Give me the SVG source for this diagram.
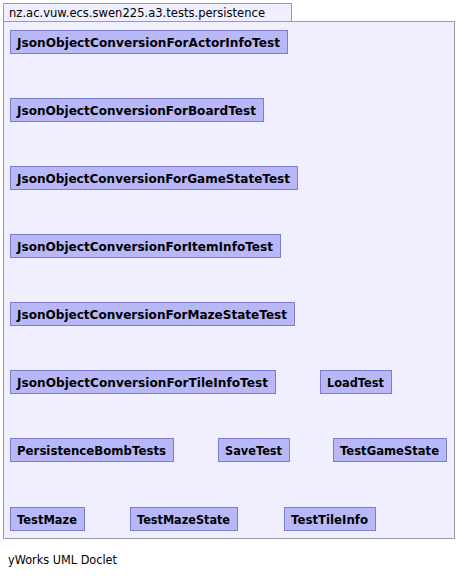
<svg xmlns="http://www.w3.org/2000/svg" width="457" height="576" viewBox="0 0 457 576">
<style>
.pkg{fill:#efefff;stroke:#9a9aa6;stroke-width:1}
.node rect{fill:#b8b8f8;stroke:#7c7cd0;stroke-width:1}
.node text{font-family:"DejaVu Sans","Liberation Sans",sans-serif;font-weight:bold;font-size:13px;fill:#000}
.lbl{font-family:"DejaVu Sans","Liberation Sans",sans-serif;font-size:12.5px;fill:#000}
</style>
<rect width="457" height="576" fill="#ffffff"/>
<g id="package">
<rect class="pkg" x="3.5" y="3.5" width="288" height="18"/>
<rect class="pkg" x="3.5" y="21.5" width="451" height="517"/>
<text class="lbl" x="9" y="17" textLength="256" lengthAdjust="spacingAndGlyphs">nz.ac.vuw.ecs.swen225.a3.tests.persistence</text>
</g>
<g id="connectors"></g>
<g id="n1" class="node"><rect x="10.5" y="30.5" width="277" height="23"/><text x="17" y="47" textLength="263" lengthAdjust="spacingAndGlyphs">JsonObjectConversionForActorInfoTest</text></g>
<g id="n2" class="node"><rect x="10.5" y="98.5" width="253" height="23"/><text x="17" y="115" textLength="239" lengthAdjust="spacingAndGlyphs">JsonObjectConversionForBoardTest</text></g>
<g id="n3" class="node"><rect x="10.5" y="166.5" width="287" height="23"/><text x="17" y="183" textLength="273" lengthAdjust="spacingAndGlyphs">JsonObjectConversionForGameStateTest</text></g>
<g id="n4" class="node"><rect x="10.5" y="234.5" width="270" height="23"/><text x="17" y="251" textLength="256" lengthAdjust="spacingAndGlyphs">JsonObjectConversionForItemInfoTest</text></g>
<g id="n5" class="node"><rect x="10.5" y="302.5" width="284" height="23"/><text x="17" y="319" textLength="270" lengthAdjust="spacingAndGlyphs">JsonObjectConversionForMazeStateTest</text></g>
<g id="n6" class="node"><rect x="10.5" y="370.5" width="265" height="23"/><text x="17" y="387" textLength="251" lengthAdjust="spacingAndGlyphs">JsonObjectConversionForTileInfoTest</text></g>
<g id="n7" class="node"><rect x="320.5" y="370.5" width="71" height="23"/><text x="327" y="387" textLength="57" lengthAdjust="spacingAndGlyphs">LoadTest</text></g>
<g id="n8" class="node"><rect x="10.5" y="438.5" width="163" height="23"/><text x="17" y="455" textLength="149" lengthAdjust="spacingAndGlyphs">PersistenceBombTests</text></g>
<g id="n9" class="node"><rect x="218.5" y="438.5" width="71" height="23"/><text x="225" y="455" textLength="57" lengthAdjust="spacingAndGlyphs">SaveTest</text></g>
<g id="n10" class="node"><rect x="333.5" y="438.5" width="113" height="23"/><text x="340" y="455" textLength="99" lengthAdjust="spacingAndGlyphs">TestGameState</text></g>
<g id="n11" class="node"><rect x="10.5" y="507.5" width="74" height="23"/><text x="17" y="524" textLength="60" lengthAdjust="spacingAndGlyphs">TestMaze</text></g>
<g id="n12" class="node"><rect x="130.5" y="507.5" width="107" height="23"/><text x="137" y="524" textLength="93" lengthAdjust="spacingAndGlyphs">TestMazeState</text></g>
<g id="n13" class="node"><rect x="284.5" y="507.5" width="91" height="23"/><text x="291" y="524" textLength="77" lengthAdjust="spacingAndGlyphs">TestTileInfo</text></g>
<text class="lbl" x="8" y="564" textLength="109" lengthAdjust="spacingAndGlyphs">yWorks UML Doclet</text>
</svg>
